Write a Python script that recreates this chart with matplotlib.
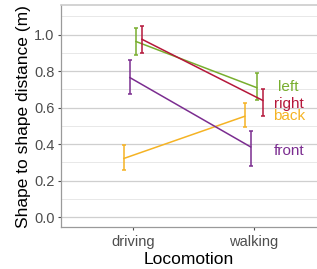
import matplotlib.pyplot as plt
import numpy as np

plt.rcParams['font.family'] = ['Liberation Sans', 'DejaVu Sans']

locomotion = ["driving", "walking"]
groups = ["back", "front", "left", "right"]
colors = {"back": "#F5B324", "front": "#7B2D90", "left": "#78AE2E", "right": "#B5173A"}

# mean, lower, upper for driving / walking
means = {"back": [0.321, 0.552], "front": [0.764, 0.384],
         "left": [0.962, 0.709], "right": [0.974, 0.639]}
lower = {"back": [0.257, 0.496], "front": [0.674, 0.277],
         "left": [0.886, 0.639], "right": [0.899, 0.556]}
upper = {"back": [0.395, 0.626], "front": [0.859, 0.474],
         "left": [1.038, 0.789], "right": [1.046, 0.703]}
label_y = {"left": 0.712, "right": 0.621, "back": 0.551, "front": 0.364}
dodge = {"back": -0.075, "front": -0.025, "left": 0.025, "right": 0.075}

fig = plt.figure(figsize=(3.17, 2.69), dpi=100)
ax = fig.add_axes([0.192, 0.156, 0.808, 0.824])

xs = np.arange(1, len(locomotion) + 1)
for g in groups:
    m = np.array(means[g])
    lo = np.array(lower[g])
    hi = np.array(upper[g])
    x = xs + dodge[g]
    ax.plot(x, m, color=colors[g], lw=1.1, zorder=3)
    ax.errorbar(x, m, yerr=[m - lo, hi - m], fmt='none', ecolor=colors[g],
                elinewidth=1.1, capsize=1.5, capthick=1.1, zorder=3)
    ax.text(2.29, label_y[g], g, color=colors[g], fontsize=11,
            ha='center', va='center')

ax.set_xlim(0.403, 2.524)
ax.set_ylim(-0.055, 1.16)
ax.set_xticks(xs)
ax.set_xticklabels(locomotion)
ax.set_yticks(np.arange(0, 1.01, 0.2))
ax.set_yticks(np.arange(0.1, 1.11, 0.2), minor=True)
ax.yaxis.set_major_formatter(plt.FuncFormatter(lambda v, p: "%.1f" % v))
ax.grid(axis='y', which='major', color='#CFCFCF', lw=0.9)
ax.grid(axis='y', which='minor', color='#E8E8E8', lw=0.7)
ax.set_axisbelow(True)
ax.tick_params(axis='both', which='major', colors='#4D4D4D', labelsize=10.5,
               length=2.5, width=0.8, pad=2)
ax.tick_params(axis='x', which='major', pad=3.5)
ax.tick_params(axis='y', which='minor', length=0)
for s in ['left', 'bottom']:
    ax.spines[s].set_color('#9A9A9A')
    ax.spines[s].set_linewidth(0.9)
ax.spines['top'].set_color('#CCCCCC')
ax.spines['top'].set_linewidth(1.2)
ax.spines['right'].set_visible(False)

ax.set_xlabel("Locomotion", fontsize=12.5, labelpad=2)
ax.set_ylabel("Shape to shape distance (m)", fontsize=12.5, labelpad=2)

fig.savefig("out.png", dpi=100)
